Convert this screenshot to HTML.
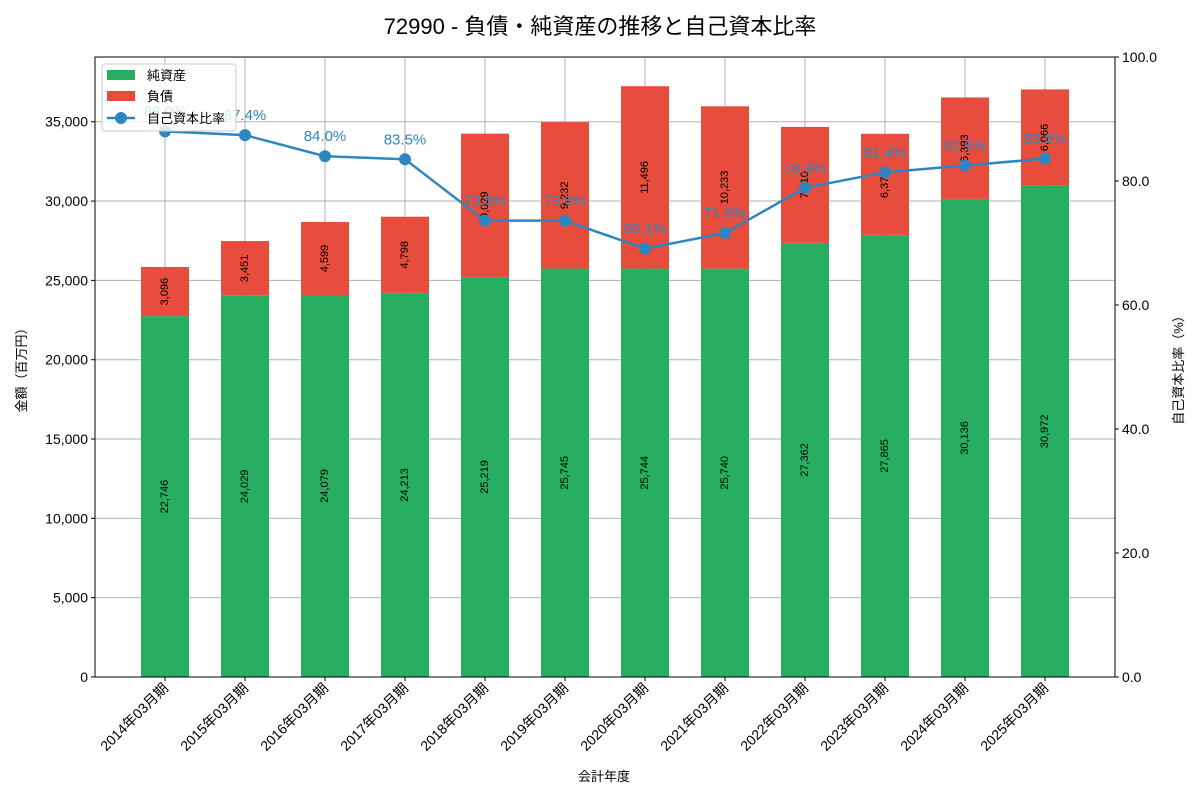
<!DOCTYPE html>
<html><head><meta charset="utf-8"><style>
body{margin:0;background:#fff;font-family:"Liberation Sans","Noto Sans CJK JP",sans-serif}
svg text{font-family:"Liberation Sans","Noto Sans CJK JP",sans-serif}
</style></head><body>
<svg id="c" width="1200" height="800">
<text x="600" y="34" text-anchor="middle" font-size="22">72990 - 負債・純資産の推移と自己資本比率</text>
</svg>
<script>
const categories=["2014年03月期","2015年03月期","2016年03月期","2017年03月期","2018年03月期","2019年03月期","2020年03月期","2021年03月期","2022年03月期","2023年03月期","2024年03月期","2025年03月期"];
const equity=[22746,24029,24079,24213,25219,25745,25744,25740,27362,27865,30136,30972];
const liabilities=[3096,3451,4599,4798,9029,9232,11496,10233,7310,6377,6393,6066];
const ratio=[88.0,87.4,84.0,83.5,73.6,73.6,69.1,71.6,78.9,81.4,82.5,83.6];
const leftTicks=[0,5000,10000,15000,20000,25000,30000,35000];
const rightTicks=[0,20,40,60,80,100];
const svg=document.getElementById('c');const NS='http://www.w3.org/2000/svg';
const L=95,R=1115,T=57,B=677,yMax=39080;
const y=v=>B-(v/yMax)*(B-T);
const y2=v=>B-(v/100)*(B-T);
const x0=165,x1=1045;
const x=i=>x0+(x1-x0)*i/(categories.length-1);
function el(t,a,p){const e=document.createElementNS(NS,t);for(const k in a)e.setAttribute(k,a[k]);(p||svg).appendChild(e);return e;}
const fmt=v=>v.toLocaleString('en-US');
categories.forEach((c,i)=>{const g=el('line',{x1:x(i),x2:x(i),y1:T,y2:B,stroke:'#b0b0b0','stroke-width':1});
});
leftTicks.forEach(t=>{const g=el('line',{x1:L,x2:R,y1:y(t),y2:y(t),stroke:'#b0b0b0','stroke-width':1});

const tk=el('line',{x1:L-4,x2:L,y1:y(t),y2:y(t),stroke:'#000'});
const tx=el('text',{x:L-7,y:y(t)+5,'text-anchor':'end','font-size':14});tx.textContent=fmt(t);
});
rightTicks.forEach(t=>{const tk=el('line',{x1:R,x2:R+4,y1:y2(t),y2:y2(t),stroke:'#000'});
const tx=el('text',{x:R+7,y:y2(t)+5,'font-size':14});tx.textContent=t.toFixed(1);
});
const bw=48;
categories.forEach((c,i)=>{
const g=el('rect',{x:x(i)-bw/2,y:y(equity[i]),width:bw,height:B-y(equity[i]),fill:'#27ae60'});

const r=el('rect',{x:x(i)-bw/2,y:y(equity[i]+liabilities[i]),width:bw,height:y(equity[i])-y(equity[i]+liabilities[i]),fill:'#e74c3c'});

[[equity[i]/2,equity[i]],[equity[i]+liabilities[i]/2,liabilities[i]]].forEach(([m,v])=>{
const cy=y(m);const t=el('text',{x:x(i),y:cy,'font-size':11,'text-anchor':'middle','dominant-baseline':'middle',transform:`rotate(-90 ${x(i)} ${cy})`});
t.textContent=fmt(v);});
const tk=el('line',{x1:x(i),x2:x(i),y1:B,y2:B+4,stroke:'#000'});
const xt=el('text',{x:x(i)+4,y:B+12,'font-size':14,'text-anchor':'end',transform:`rotate(-45 ${x(i)+4} ${B+12})`});
xt.textContent=c;});
const pl=el('polyline',{points:ratio.map((v,i)=>x(i)+','+y2(v)).join(' '),fill:'none',stroke:'#2e86c1','stroke-width':2.5});

ratio.forEach((v,i)=>{const p=el('circle',{cx:x(i),cy:y2(v),r:6,fill:'#2e86c1'});

const t=el('text',{x:x(i),y:y2(v)-15,'font-size':15,'text-anchor':'middle',fill:'#2e86c1'});t.textContent=v.toFixed(1)+'%';
});
const f=el('rect',{x:L,y:T,width:R-L,height:B-T,fill:'none',stroke:'#000'});
let a=el('text',{x:604,y:781,'font-size':13,'text-anchor':'middle'});a.textContent='会計年度';
a=el('text',{x:26,y:367,'font-size':13,'text-anchor':'middle',transform:'rotate(-90 26 367)'});a.textContent='金額（百万円）';
a=el('text',{x:1183,y:367,'font-size':13,'text-anchor':'middle',transform:'rotate(-90 1183 367)'});a.textContent='自己資本比率（%）';
const lg=el('g',{});
el('rect',{x:102,y:64,width:134,height:67,fill:'#fff','fill-opacity':0.8,stroke:'#ccc',rx:3},lg);
el('rect',{x:107,y:70,width:28,height:10,fill:'#27ae60'},lg);
el('rect',{x:107,y:91,width:28,height:10,fill:'#e74c3c'},lg);
el('line',{x1:107,x2:135,y1:118,y2:118,stroke:'#2e86c1','stroke-width':2.5},lg);
el('circle',{cx:121,cy:118,r:6,fill:'#2e86c1'},lg);
[['純資産',80],['負債',101],['自己資本比率',123]].forEach(([s,yy])=>{const t=el('text',{x:147,y:yy,'font-size':13},lg);t.textContent=s;
});
</script>
</body></html>
